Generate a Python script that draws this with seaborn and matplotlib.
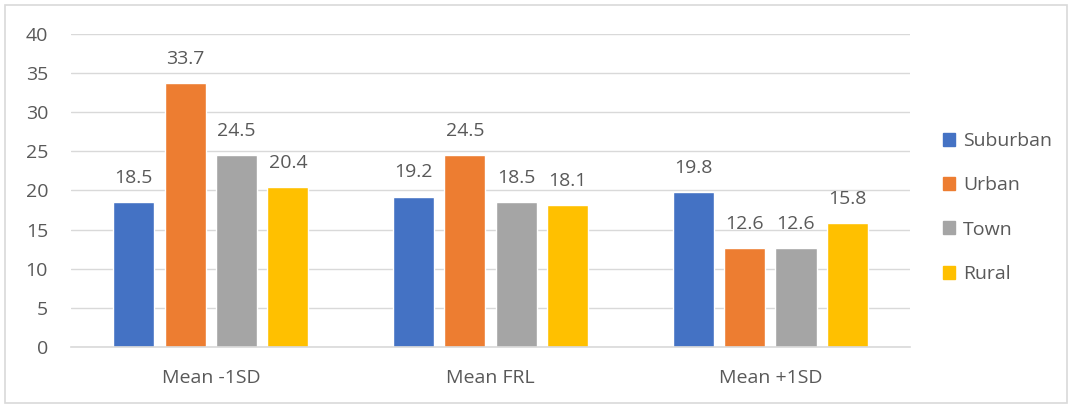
import matplotlib
matplotlib.use("Agg")
import matplotlib.pyplot as plt
import matplotlib.patches as mpatches
import seaborn as sns
import pandas as pd

categories = ["Mean -1SD", "Mean FRL", "Mean +1SD"]
series = ["Suburban", "Urban", "Town", "Rural"]
suburban = [18.5, 19.2, 19.8]
urban = [33.7, 24.5, 12.6]
town = [24.5, 18.5, 12.6]
rural = [20.4, 18.1, 15.8]
colors = ["#4472C4", "#ED7D31", "#A5A5A5", "#FFC000"]
yticks = [0, 5, 10, 15, 20, 25, 30, 35, 40]

rows = []
for name, vals in zip(series, [suburban, urban, town, rural]):
    for cat, v in zip(categories, vals):
        rows.append({"group": cat, "area": name, "value": v})
df = pd.DataFrame(rows)

sns.set_theme(style="white")
plt.rcParams["font.family"] = ["Open Sans", "DejaVu Sans"]
text_color = "#595959"

fig = plt.figure(figsize=(10.72, 4.07), dpi=100)
ax = fig.add_axes([0.0662, 0.147, 0.7828, 0.770])

sns.barplot(data=df, x="group", y="value", hue="area", order=categories,
            hue_order=series, palette=colors, width=0.735, gap=0.2,
            saturation=1, errorbar=None, ax=ax, legend=False)

for container in ax.containers:
    ax.bar_label(container, fmt="%.1f", padding=11, fontsize=14, color=text_color)

ax.set_ylim(0, 40)
ax.set_yticks(yticks)
ax.set_xlim(-0.5, 2.5)
ax.set_xlabel("")
ax.set_ylabel("")
ax.yaxis.grid(True, color="#D9D9D9", linewidth=1)
ax.set_axisbelow(True)
for side in ["top", "right", "left"]:
    ax.spines[side].set_visible(False)
ax.spines["bottom"].set_color("#D9D9D9")
ax.spines["bottom"].set_linewidth(1.2)
ax.tick_params(axis="both", length=0, labelsize=14, colors=text_color)
ax.tick_params(axis="y", pad=16.5)
ax.tick_params(axis="x", pad=15.5)

handles = [mpatches.Patch(color=c, label=s) for c, s in zip(colors, series)]
leg = fig.legend(handles=handles, loc="center left", bbox_to_anchor=(0.863, 0.49),
                 frameon=False, fontsize=14, handlelength=0.66, handleheight=0.66,
                 handletextpad=0.38, labelspacing=1.35, labelcolor=text_color)

# light frame around the whole chart
fig.patches.append(mpatches.Rectangle((0.005, 0.01), 0.99, 0.978, transform=fig.transFigure,
                                      fill=False, edgecolor="#D9D9D9", linewidth=1.2))

fig.savefig("out.png", dpi=100, facecolor="white")
